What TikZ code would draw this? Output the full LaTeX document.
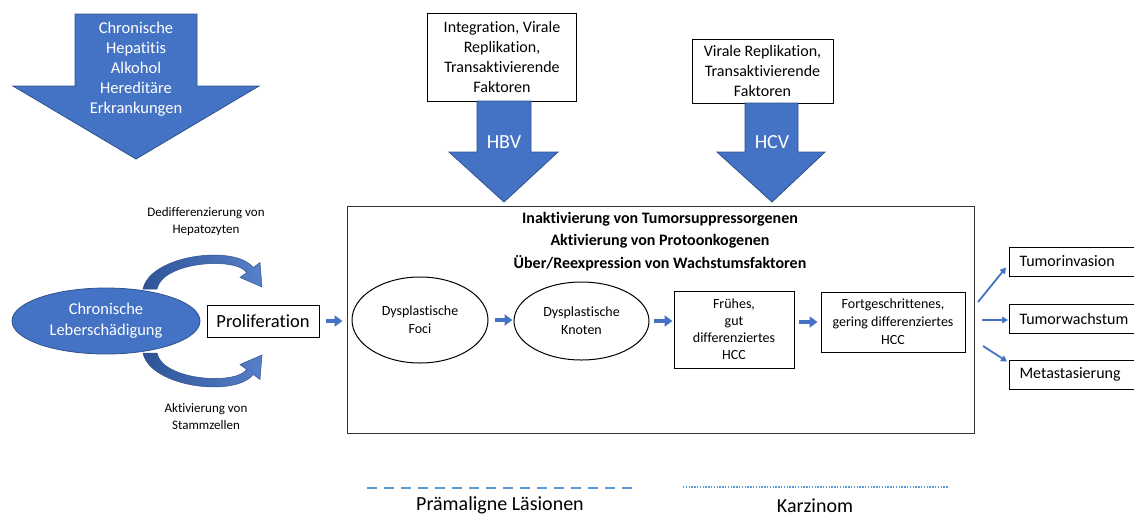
\documentclass[tikz,border=0pt]{standalone}
\usepackage{fontspec}
\setmainfont{Carlito}[Ligatures=NoCommon]
\usetikzlibrary{arrows.meta,calc,shapes.geometric}
\definecolor{offblue}{HTML}{4472C4}
\definecolor{offedge}{HTML}{2F528F}
\definecolor{curvedark}{HTML}{2E5497}
\definecolor{legblue}{HTML}{5B9BD5}
\newcommand\setfs[2]{\fontsize{#1}{#2}\selectfont}

\begin{document}
\begin{tikzpicture}[x=1pt,y=-1pt,
  blockarrow/.style={fill=offblue,draw=offedge,line width=0.8pt},
  curvearrow/.style={left color=curvedark,right color=offblue!90!white,draw=offedge,line width=0.5pt},
  whitetxt/.style={text=white,align=center,inner sep=0pt},
  plainbox/.style={draw=black,line width=1pt,fill=white,align=center,inner sep=0pt},
  stage/.style={draw=black,line width=1pt,align=center,inner sep=0pt,font=\setfs{14}{17}},
  oval/.style={ellipse,draw=black,line width=1pt,align=center,inner sep=0pt,font=\setfs{14}{18}},
  outcome/.style={draw=black,line width=1pt,anchor=west,align=left,text width=120pt,
    inner xsep=10pt,inner ysep=0pt,minimum height=29pt,font=\setfs{16}{19}},
  flow/.style={draw=offblue,line width=4pt,-{Triangle[length=8pt,width=11pt]}},
  thinflow/.style={draw=offblue,line width=1.8pt,-{Triangle[length=6pt,width=6.5pt]}},
  caption/.style={align=center,inner sep=0pt,font=\setfs{13}{17}}
]
\useasboundingbox (0,0) rectangle (1134,517);
\clip (0,0) rectangle (1134,517);

% causes: large downward block arrow
\draw[blockarrow] (75,14) -- (197,14) -- (197,86) -- (259,86) -- (136,159)
  -- (13,86) -- (75,86) -- cycle;
\node[whitetxt,font=\setfs{16.5}{20}] (causes) at (136,69)
  {Chronische\\Hepatitis\\Alkohol\\Hereditäre\\Erkrankungen};

% HBV
\node[plainbox,minimum width=149pt,minimum height=88pt,font=\setfs{16}{20}] (hbvbox) at (502,57)
  {Integration, Virale\\Replikation,\\Transaktivierende\\Faktoren};
% HCV
\node[plainbox,minimum width=141pt,minimum height=64pt,font=\setfs{16}{20}] (hcvbox) at (762.5,71)
  {Virale Replikation,\\Transaktivierende\\Faktoren};

% main box
\node[draw=black!80,line width=1pt,minimum width=627pt,minimum height=227pt,inner sep=0pt]
  (main) at (660.5,319.5) {};
\node[align=center,inner sep=0pt,font=\bfseries\setfs{16}{22.5}] (genes) at (660,241.5)
  {Inaktivierung von Tumorsuppressorgenen\\Aktivierung von Protoonkogenen\\Über/Reexpression von Wachstumsfaktoren};

% virus arrows into the main box
\draw[blockarrow] (477,101) -- (477,152) -- (449,152) -- (504,202) -- (558,152)
  -- (531,152) -- (531,101) -- cycle;
\node[whitetxt,font=\setfs{20}{24}] (hbv) at (504,142) {HBV};
\draw[blockarrow] (745,103) -- (745,152) -- (717,152) -- (772,202) -- (825,152)
  -- (798,152) -- (798,103) -- cycle;
\node[whitetxt,font=\setfs{20}{24}] (hcv) at (772,142) {HCV};

% stages
\node[oval,minimum width=136pt,minimum height=86pt] (foci) at (420,320) {Dysplastische\\Foci};
\node[oval,minimum width=135pt,minimum height=78pt] (knoten) at (581.5,321) {Dysplastische\\Knoten};
\node[stage,minimum width=120pt,minimum height=77pt] (early) at (734,329.5)
  {Frühes,\\gut\\differenziertes\\HCC};
\node[stage,minimum width=144pt,minimum height=60pt,font=\setfs{14}{18}] (adv) at (893,322)
  {Fortgeschrittenes,\\gering differenziertes\\HCC};

\draw[flow,shorten <=6pt,shorten >=1pt] (foci.east) -- (knoten.west |- foci.east);
\draw[flow,shorten <=4pt,shorten >=1pt] (knoten.east) -- (early.west |- knoten.east);
\draw[flow,shorten <=4pt,shorten >=3pt] (early.east |- 0,322) -- (adv.west |- 0,322);

% liver damage and proliferation
\node[ellipse,fill=offblue,draw=offedge,line width=0.8pt,minimum width=188pt,minimum height=66pt,
  whitetxt,font=\setfs{16.5}{21}] (damage) at (106,321) {Chronische\\Leberschädigung};
\node[plainbox,minimum width=112pt,minimum height=32pt,font=\setfs{18.5}{22}] (prolif) at (263,321)
  {Proliferation};
\draw[flow,shorten <=6pt,shorten >=4pt] (prolif.east) -- (main.west |- prolif.east);

% curved arrows
\draw[curvearrow] (143,289) .. controls (150,255) and (235,244) .. (253.2,267.6)
  -- (260,262.5) -- (262,287) -- (240,277.5) -- (246.8,272.4)
  .. controls (234.8,256.4) and (162,262) .. (157,289) -- cycle;
\draw[curvearrow] (143,353) .. controls (150,387) and (235,398) .. (253.2,374.4)
  -- (260,379.5) -- (262,355) -- (240,364.5) -- (246.8,369.6)
  .. controls (234.8,385.6) and (162,380) .. (157,353) -- cycle;
\node[caption] (dediff) at (206,221.5) {Dedifferenzierung von\\Hepatozyten};
\node[caption] (stamm) at (206,416.5) {Aktivierung von\\Stammzellen};

% outcomes
\node[outcome] (inv) at (1009,261.5) {Tumorinvasion};
\node[outcome] (growth) at (1009,319) {Tumorwachstum};
\node[outcome] (meta) at (1009,374.5) {Metastasierung};
\coordinate (o1) at (978,302);
\coordinate (o2) at (982,320);
\coordinate (o3) at (983,346);
\draw[thinflow] (o1) -- ($(inv.south west)+(-3,-9)$);
\draw[thinflow,shorten >=1pt] (o2) -- (growth.west |- o2);
\draw[thinflow] (o3) -- ($(meta.north west)+(-2,2)$);

% legend
\coordinate (da) at (367,488);
\coordinate (db) at (633,488);
\coordinate (ta) at (683,487);
\coordinate (tb) at (949,487);
\draw[legblue,line width=2.5pt,dash pattern=on 10pt off 7pt] (da) -- (db);
\draw[legblue,line width=1.8pt,dash pattern=on 1.4pt off 1.4pt] (ta) -- (tb);
\node[inner sep=0pt,font=\setfs{20}{24}] (pre) at (500,505.5) {Prämaligne Läsionen};
\node[inner sep=0pt,font=\setfs{20}{24}] (carc) at (815,506) {Karzinom};
\end{tikzpicture}
\end{document}
